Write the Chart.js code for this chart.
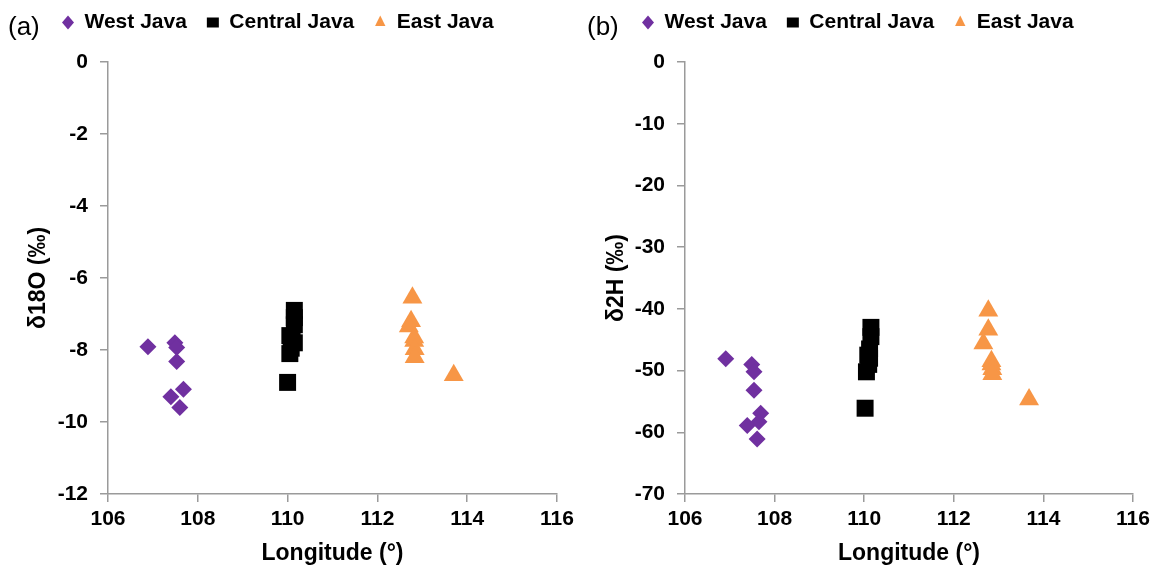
<!DOCTYPE html>
<html>
<head>
<meta charset="utf-8">
<script src="https://cdn.jsdelivr.net/npm/chart.js@4.4.1/dist/chart.umd.min.js"></script>
<style>
  html, body { margin: 0; padding: 0; background: #ffffff; }
  #wrap { position: relative; width: 1165px; height: 570px; background: #ffffff; }
  canvas { position: absolute; top: 0; }
  #cA { left: 0; }
  #cB { left: 580px; }
</style>
</head>
<body>
<div id="wrap">
  <canvas id="cA" width="580" height="570"></canvas>
  <canvas id="cB" width="585" height="570"></canvas>
</div>
<script>
// Sampling sites: longitude (°E) and isotope values
const seriesNames = ['West Java', 'Central Java', 'East Java'];

// Panel (a): δ18O (‰)
const westLonO   = [106.89, 107.49, 107.53, 107.53, 107.68, 107.40, 107.60];
const westO18    = [-7.91, -7.80, -7.93, -8.32, -9.09, -9.30, -9.60];
const centralLonO = [110.15, 110.15, 110.15, 110.05, 110.10, 110.15, 110.08, 110.05, 110.00];
const centralO18  = [-6.90, -7.10, -7.30, -7.60, -7.75, -7.80, -7.95, -8.10, -8.90];
const eastLonO   = [112.78, 112.75, 112.70, 112.82, 112.82, 112.83, 112.83, 113.70];
const eastO18    = [-6.55, -7.20, -7.35, -7.65, -7.75, -7.98, -8.20, -8.70];

// Panel (b): δ2H (‰)
const westLonH   = [106.91, 107.49, 107.54, 107.54, 107.69, 107.65, 107.39, 107.61];
const westH2     = [-48.1, -49.0, -50.2, -53.2, -56.9, -58.3, -58.9, -61.1];
const centralLonH = [110.15, 110.15, 110.12, 110.08, 110.12, 110.10, 110.05, 110.02];
const centralH2   = [-43.0, -44.5, -46.5, -47.5, -48.0, -49.0, -50.2, -56.1];
const eastLonH   = [112.77, 112.77, 112.66, 112.84, 112.84, 112.86, 112.86, 113.68];
const eastH2     = [-40.3, -43.4, -45.6, -48.5, -49.0, -49.8, -50.6, -54.7];

// Axis ranges and tick steps
const xRange = [106, 116, 2];
const yRangeO = [-12, 0, 2];
const yRangeH = [-70, 0, 10];

const FONT = '"Liberation Sans", Arial, sans-serif';
const AXIS_GREY = '#9a9a9a';
const colors = ['#7030A0', '#000000', '#F79646'];
const styles = ['rectRot', 'rect', 'triangle'];
const radii = [8.5, 12, 11.5];

function pairs(xs, ys) { return xs.map((x, i) => ({ x: x, y: ys[i] })); }

function makeDatasets(groups) {
  return groups.map((g, i) => ({
    label: seriesNames[i],
    data: pairs(g[0], g[1]),
    pointStyle: styles[i],
    pointRadius: radii[i],
    pointHoverRadius: radii[i],
    backgroundColor: colors[i],
    borderColor: colors[i],
    borderWidth: 0,
    showLine: false
  }));
}

// Panel letter drawn in the top-left corner, legend moved next to it
const panelDecor = {
  id: 'panelDecor',
  afterLayout(chart, args, opts) {
    const lg = chart.legend;
    if (lg) {
      const w = lg.right - lg.left;
      lg.left = opts.legendLeft;
      lg.right = opts.legendLeft + w;
      lg.top = opts.legendTop;
      lg.bottom = opts.legendTop + lg.height;
    }
  },
  afterDraw(chart, args, opts) {
    const ctx = chart.ctx;
    ctx.save();
    ctx.fillStyle = '#000';
    ctx.font = '26px ' + FONT;
    ctx.textBaseline = 'alphabetic';
    ctx.textAlign = 'left';
    ctx.fillText(opts.letter, opts.letterX, 35);
    ctx.restore();
  }
};

function makeChart(canvasId, cfg) {
  return new Chart(document.getElementById(canvasId), {
    type: 'scatter',
    data: { datasets: cfg.datasets },
    plugins: [panelDecor],
    options: {
      responsive: false,
      animation: false,
      events: [],
      layout: { padding: { left: 0, right: cfg.padRight, top: 11, bottom: 0 } },
      plugins: {
        tooltip: { enabled: false },
        legend: {
          position: 'top',
          align: 'start',
          labels: {
            usePointStyle: true,
            pointStyleWidth: 12,
            boxHeight: 10,
            padding: 20,
            color: '#000',
            font: { family: FONT, size: 21, weight: 'bold' }
          }
        },
        panelDecor: { letter: cfg.letter, letterX: cfg.letterX, legendLeft: 42, legendTop: -8 }
      },
      scales: {
        x: {
          type: 'linear',
          min: xRange[0], max: xRange[1],
          ticks: {
            stepSize: xRange[2],
            padding: 5,
            color: '#000',
            font: { family: FONT, size: 21, weight: 'bold' }
          },
          grid: { display: true, drawOnChartArea: false, drawTicks: true, tickLength: 8, color: AXIS_GREY, lineWidth: 1.5 },
          border: { display: true, color: AXIS_GREY, width: 1.5 },
          title: {
            display: true,
            text: 'Longitude (°)',
            color: '#000',
            padding: { top: 0, bottom: 3 },
            font: { family: FONT, size: 23, weight: 'bold' }
          },
          afterFit(scale) { scale.height = 76; }
        },
        y: {
          type: 'linear',
          min: cfg.yRange[0], max: cfg.yRange[1],
          ticks: {
            stepSize: cfg.yRange[2],
            padding: 12,
            color: '#000',
            font: { family: FONT, size: 21, weight: 'bold' }
          },
          grid: { display: true, drawOnChartArea: false, drawTicks: true, tickLength: 8, color: AXIS_GREY, lineWidth: 1.5 },
          border: { display: true, color: AXIS_GREY, width: 1.5 },
          title: {
            display: true,
            text: cfg.yTitle,
            color: '#000',
            padding: { top: cfg.yTitlePad, bottom: 0 },
            font: { family: FONT, size: 23, weight: 'bold' }
          },
          afterFit(scale) { scale.width = cfg.yWidth; }
        }
      }
    }
  });
}

makeChart('cA', {
  datasets: makeDatasets([[westLonO, westO18], [centralLonO, centralO18], [eastLonO, eastO18]]),
  yRange: yRangeO,
  yTitle: 'δ18O (‰)',
  yTitlePad: 25,
  yWidth: 108,
  padRight: 23,
  letter: '(a)',
  letterX: 8
});

makeChart('cB', {
  datasets: makeDatasets([[westLonH, westH2], [centralLonH, centralH2], [eastLonH, eastH2]]),
  yRange: yRangeH,
  yTitle: 'δ2H (‰)',
  yTitlePad: 23,
  yWidth: 105,
  padRight: 32,
  letter: '(b)',
  letterX: 7
});
</script>
</body>
</html>
